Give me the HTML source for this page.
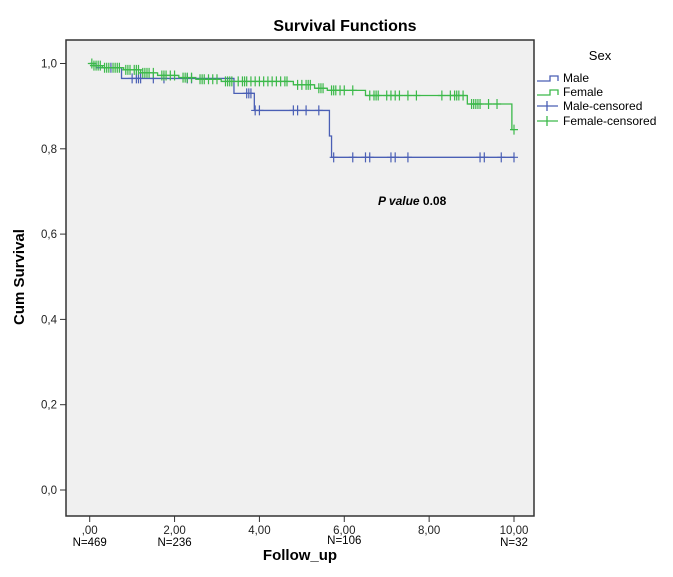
<!DOCTYPE html>
<html><head><meta charset="utf-8"><style>
body{margin:0;background:#fff;width:673px;height:572px;overflow:hidden}
svg text{font-family:"Liberation Sans",sans-serif}
</style></head><body>
<svg width="673" height="572" id="svg">
<rect x="0" y="0" width="673" height="572" fill="#fff"/>
<text x="345" y="31" text-anchor="middle" font-size="16" font-weight="bold">Survival Functions</text>
<rect x="66" y="40" width="468" height="476" fill="#f0f0f0" stroke="#333" stroke-width="1.5"/>
<g id="axes"></g>
<g id="marks"></g>
<text transform="translate(24,277) rotate(-90)" text-anchor="middle" font-size="15" font-weight="bold">Cum Survival</text>
<text x="300" y="560" text-anchor="middle" font-size="15" font-weight="bold">Follow_up</text>
<text x="378" y="205" font-size="12" font-weight="bold"><tspan font-style="italic">P value</tspan> 0.08</text>
<g>
<text x="600" y="60" text-anchor="middle" font-size="13">Sex</text>
<g><path d="M537,81 H550 V76 H558 V81" fill="none" stroke="#4a5fb5" stroke-width="1.3"/><text x="563" y="82" font-size="12">Male</text></g>
<g><path d="M537,95 H550 V90 H558 V95" fill="none" stroke="#3cb94a" stroke-width="1.3"/><text x="563" y="96" font-size="12">Female</text></g>
<g><path d="M537,106 H558 M547,101 V111" stroke="#4a5fb5" stroke-width="1.3"/><text x="563" y="110" font-size="12">Male-censored</text></g>
<g><path d="M537,121 H558 M547,116 V126" stroke="#3cb94a" stroke-width="1.3"/><text x="563" y="125" font-size="12">Female-censored</text></g>
</g>
</svg>
<script>
const xTicks=[0,2,4,6,8,10];
const xTickLabels=[",00","2,00","4,00","6,00","8,00","10,00"];
const atRisk=["N=469","N=236","","N=106","","N=32"];
const yTicks=[0,0.2,0.4,0.6,0.8,1.0];
const yTickLabels=["0,0","0,2","0,4","0,6","0,8","1,0"];
const maleTimes=[0,0.15,0.75,3.4,3.88,5.65,5.7];
const maleSurv=[1,0.99,0.965,0.93,0.89,0.83,0.78];
const maleEnd=10.0;
const maleCensor=[0.5,1.0,1.1,1.15,1.2,1.5,1.75,2.3,2.4,3.7,3.75,3.8,3.9,4.0,4.8,4.9,5.1,5.4,5.75,6.2,6.5,6.6,7.1,7.2,7.5,9.2,9.3,9.7,10.0];
const femaleTimes=[0,0.1,0.3,0.8,1.2,1.6,2.1,2.5,3.1,4.8,5.3,5.6,6.5,8.9,9.95];
const femaleSurv=[1,0.995,0.99,0.985,0.978,0.972,0.967,0.963,0.958,0.95,0.942,0.937,0.925,0.905,0.845];
const femaleEnd=10.0;
const femaleCensor=[0.05,0.1,0.15,0.2,0.25,0.35,0.4,0.45,0.55,0.6,0.65,0.7,0.85,0.9,0.95,1.05,1.1,1.15,1.25,1.3,1.35,1.4,1.5,1.7,1.75,1.8,1.9,2.0,2.2,2.25,2.3,2.4,2.6,2.65,2.7,2.8,2.9,3.0,3.2,3.25,3.3,3.35,3.5,3.6,3.65,3.7,3.8,3.9,4.0,4.1,4.2,4.3,4.4,4.5,4.6,4.65,4.9,5.0,5.1,5.15,5.2,5.4,5.45,5.5,5.7,5.75,5.8,5.9,6.0,6.2,6.6,6.7,6.75,6.8,7.0,7.1,7.2,7.3,7.5,7.7,8.3,8.5,8.6,8.65,8.7,8.8,9.0,9.05,9.1,9.15,9.2,9.4,9.6,10.0];
const X=t=>89.7+t*42.43, Y=s=>490-s*426.5;
const NS="http://www.w3.org/2000/svg";
function mk(tag,attrs,parent){const e=document.createElementNS(NS,tag);for(const k in attrs)e.setAttribute(k,attrs[k]);parent.appendChild(e);return e;}
const ax=document.getElementById('axes'), mg=document.getElementById('marks');
xTicks.forEach((t,i)=>{
  const l=mk('line',{x1:X(t),x2:X(t),y1:516,y2:522,stroke:'#333'},ax);
  
  
  const tx=mk('text',{x:X(t),y:534,'text-anchor':'middle','font-size':'11.5',fill:'#222'},ax);tx.textContent=xTickLabels[i];
  
  
  if(atRisk[i]){const n=mk('text',{x:X(t),y:i==3?544:546,'text-anchor':'middle','font-size':'11.5',fill:'#000'},ax);n.textContent=atRisk[i];
  
  }
});
yTicks.forEach((v,i)=>{
  const l=mk('line',{x1:60,x2:66,y1:Y(v),y2:Y(v),stroke:'#333'},ax);
  
  
  const tx=mk('text',{x:57,y:Y(v)+4,'text-anchor':'end','font-size':'11.5',fill:'#222'},ax);tx.textContent=yTickLabels[i];
  
  
});
function survAt(times,surv,t){let s=surv[0];for(let i=0;i<times.length;i++)if(times[i]<=t)s=surv[i];return s;}
function curve(times,surv,end,censor,color,name){
  let d=`M${X(times[0])},${Y(surv[0])}`;
  for(let i=1;i<times.length;i++)d+=` H${X(times[i])} V${Y(surv[i])}`;
  d+=` H${X(end)}`;
  const p=mk('path',{d:d,fill:'none',stroke:color,'stroke-width':1.3},mg);
  
  
  censor.forEach(t=>{const s=survAt(times,surv,t);
    const c=mk('path',{d:`M${X(t)-4},${Y(s)} H${X(t)+4} M${X(t)},${Y(s)-5} V${Y(s)+5}`,stroke:color,'stroke-width':1.2},mg);
    
    });
}
curve(maleTimes,maleSurv,maleEnd,maleCensor,'#4a5fb5','male');
curve(femaleTimes,femaleSurv,femaleEnd,femaleCensor,'#3cb94a','female');
</script>
</body></html>
